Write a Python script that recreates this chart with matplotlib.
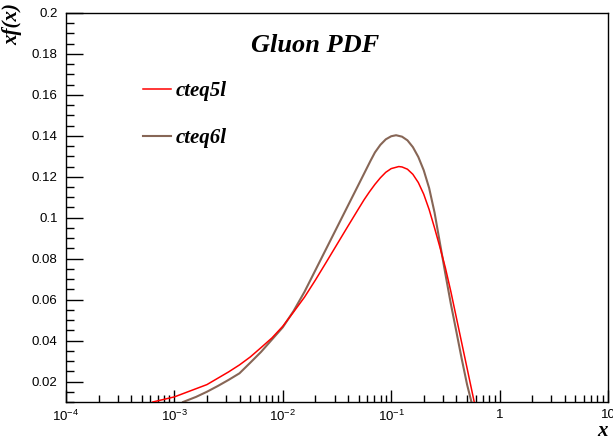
import numpy as np
import matplotlib
matplotlib.use('Agg')
import matplotlib.pyplot as plt
from matplotlib.ticker import FixedLocator, LogLocator, MultipleLocator, NullFormatter

# values (log10 x, x f(x))
logx_5l = [-3.20, -3.00, -2.70, -2.50, -2.40, -2.30, -2.20, -2.10, -2.00, -1.90, -1.80,
           -1.70, -1.60, -1.50, -1.40, -1.30, -1.25, -1.20, -1.15, -1.10, -1.05, -1.00,
           -0.93, -0.90, -0.85, -0.80, -0.75, -0.70, -0.65, -0.60, -0.55, -0.50, -0.45,
           -0.40, -0.35, -0.30, -0.25, -0.20]
xf_5l = [0.0100, 0.0125, 0.0185, 0.0247, 0.0281, 0.0320, 0.0366, 0.0413, 0.0470, 0.0540,
         0.0612, 0.0695, 0.0782, 0.0870, 0.0958, 0.1045, 0.1088, 0.1127, 0.1163, 0.1195,
         0.1222, 0.1240, 0.1250, 0.1248, 0.1237, 0.1212, 0.1172, 0.1115, 0.1040, 0.0950,
         0.0855, 0.0755, 0.0640, 0.0515, 0.0390, 0.0265, 0.0140, 0.0015]

logx_6l = [-2.92, -2.80, -2.70, -2.60, -2.50, -2.40, -2.30, -2.20, -2.10, -2.00, -1.90,
           -1.80, -1.70, -1.60, -1.50, -1.40, -1.30, -1.19, -1.15, -1.10, -1.05, -1.00,
           -0.955, -0.90, -0.85, -0.80, -0.75, -0.70, -0.65, -0.60, -0.55, -0.50, -0.45,
           -0.40, -0.35, -0.30, -0.25]
xf_6l = [0.0100, 0.0125, 0.0150, 0.0178, 0.0208, 0.0240, 0.0292, 0.0345, 0.0405, 0.0465,
         0.0545, 0.0638, 0.0743, 0.0848, 0.0953, 0.1058, 0.1163, 0.1279, 0.1319, 0.1356,
         0.1383, 0.1398, 0.1403, 0.1396, 0.1378, 0.1345, 0.1297, 0.1232, 0.1145, 0.1025,
         0.0875, 0.0725, 0.0580, 0.0447, 0.0312, 0.0185, 0.0080]

xticks = [1e-4, 1e-3, 1e-2, 1e-1, 1, 10]
xticklabels = ['$10^{-4}$', '$10^{-3}$', '$10^{-2}$', '$10^{-1}$', '1', '10']
yticks = [0.02, 0.04, 0.06, 0.08, 0.1, 0.12, 0.14, 0.16, 0.18, 0.2]
yticklabels = ['0.02', '0.04', '0.06', '0.08', '0.1', '0.12', '0.14', '0.16', '0.18', '0.2']

plt.rcParams['font.family'] = ['Liberation Sans', 'DejaVu Sans']
plt.rcParams['mathtext.fontset'] = 'custom'
plt.rcParams['mathtext.rm'] = 'Liberation Sans'

fig = plt.figure(figsize=(6.13, 4.42), dpi=100)
ax = fig.add_axes([66/613, 40/442, 542/613, 389/442])

ax.plot(10**np.array(logx_5l), xf_5l, color='#ff0000', lw=1.1, label='cteq5l', zorder=3)
ax.plot(10**np.array(logx_6l), xf_6l, color='#876656', lw=1.5, label='cteq6l', zorder=2)

ax.set_xscale('log')
ax.set_xlim(1e-4, 10)
ax.set_ylim(0.01, 0.2)

ax.xaxis.set_major_locator(FixedLocator(xticks))
ax.set_xticklabels(xticklabels)
ax.xaxis.set_minor_locator(LogLocator(base=10, subs=np.arange(2, 10), numticks=20))
ax.xaxis.set_minor_formatter(NullFormatter())
ax.set_yticks(yticks)
ax.set_yticklabels(yticklabels)
ax.yaxis.set_minor_locator(MultipleLocator(0.005))

ax.tick_params(which='both', direction='in', top=False, right=False, labelsize=9.5, width=1, color='black')
ax.tick_params(axis='y', which='major', length=12, pad=6)
ax.tick_params(axis='y', which='minor', length=6)
ax.tick_params(axis='x', which='major', length=9, pad=5)
ax.tick_params(axis='x', which='minor', length=5)
for s in ax.spines.values():
    s.set_linewidth(1)

serif = ['Liberation Serif', 'DejaVu Serif']
fig.text(315/613, 1 - 45/442, 'Gluon PDF', family=serif, fontsize=19, fontweight='bold',
         style='italic', ha='center', va='center')
fig.text(12/613, 1 - 3/442, 'xf(x)', family=serif, fontsize=15, fontweight='bold',
         style='italic', rotation=90, ha='center', va='top')
fig.text(608/613, 1 - 441/442, 'x', family=serif, fontsize=15, fontweight='bold',
         style='italic', ha='right', va='bottom')

leg = ax.legend(loc='upper left', bbox_to_anchor=(0.107, 0.873), frameon=False,
                prop={'family': serif, 'size': 15, 'weight': 'bold', 'style': 'italic'},
                handlelength=1.35, handletextpad=0.25, labelspacing=1.28)

fig.savefig('out.png', dpi=100, facecolor='white')
